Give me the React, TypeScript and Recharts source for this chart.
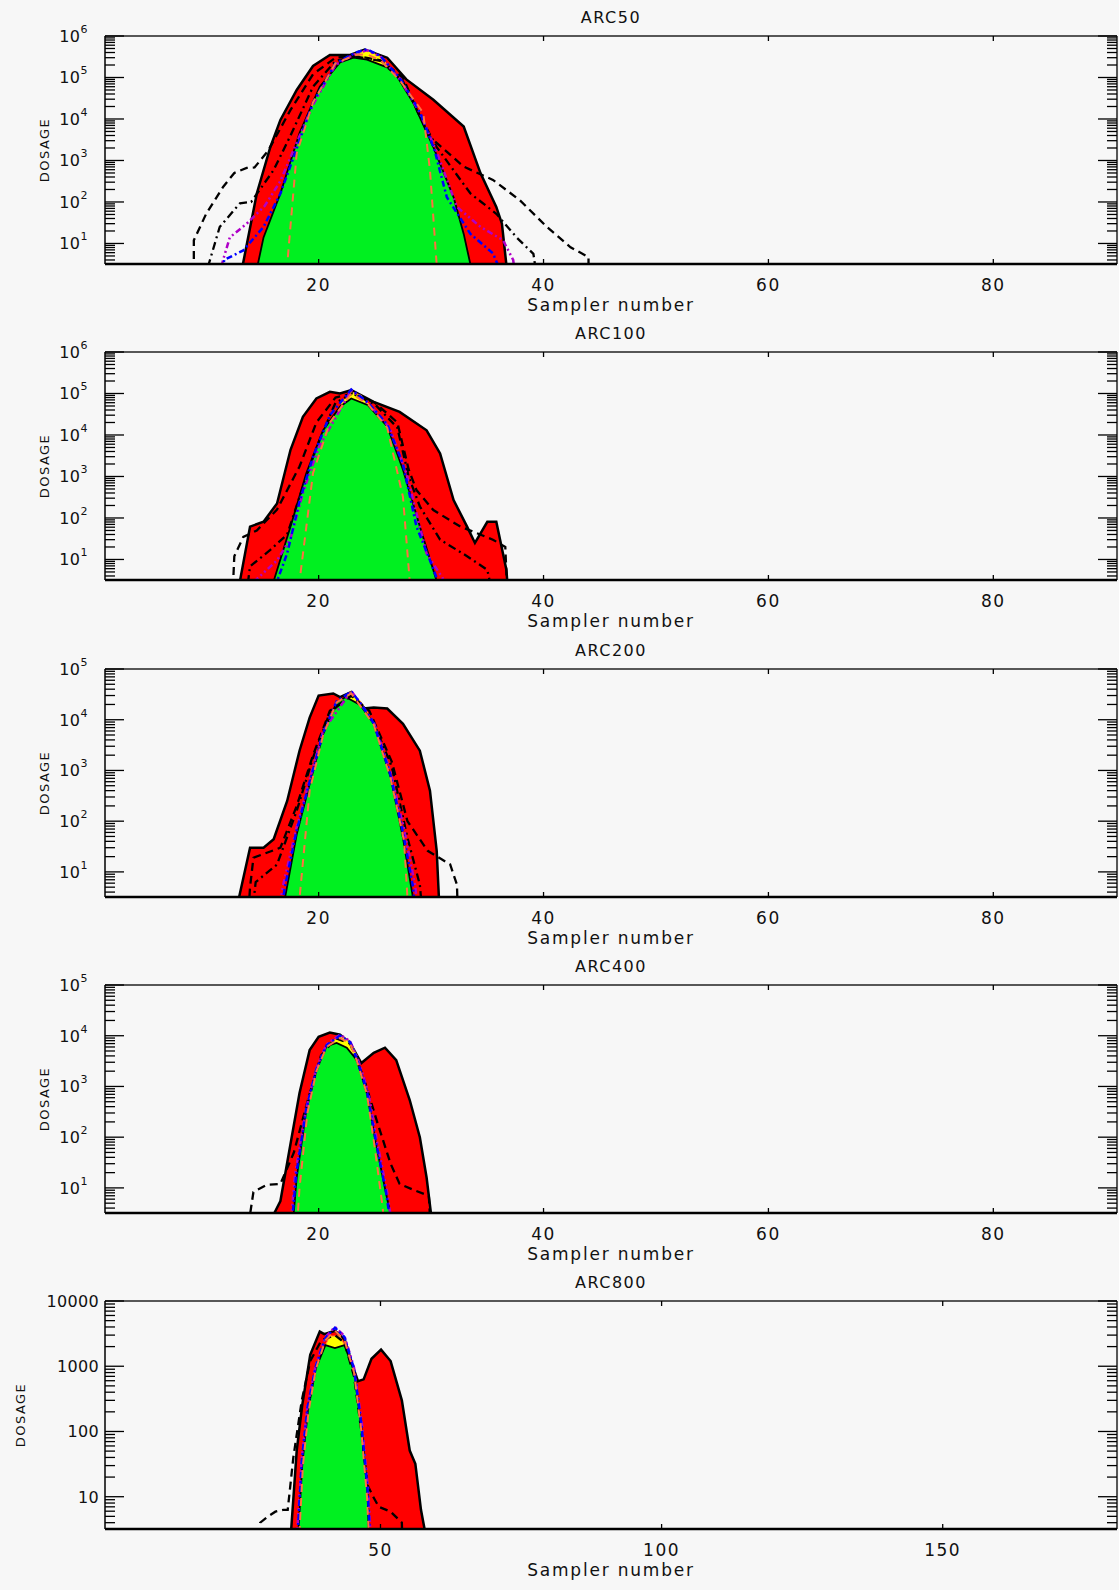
import React from "react";
import { ComposedChart, Area, Line, XAxis, YAxis, ReferenceLine } from "recharts";

type Pt = [number, number]; // [sampler number, dosage]

// ---- ARC50 ----
const arc50Red: Pt[] = [[12.9, 1], [14.5, 160], [15.7, 2100], [16.6, 9500], [18.05, 5e4], [19.5, 1.9e5], [21.0, 3.5e5], [22.8, 3.5e5], [24.1, 4.7e5], [26.1, 3e5], [27.8, 9e4], [30.2, 2.9e4], [32.9, 6600], [34.4, 490], [35.8, 76], [36.3, 30], [36.7, 3], [36.9, 1]];
const arc50Yellow: Pt[] = [[22.0, 1e5], [23.3, 3.8e5], [24.3, 4.5e5], [25.5, 3.2e5], [26.6, 1.4e5]];
const arc50Green: Pt[] = [[14.2, 1], [15.1, 14], [16.6, 160], [18.3, 4600], [20.1, 6e4], [21.9, 2.3e5], [23.1, 3e5], [24.3, 2.7e5], [26.6, 1.55e5], [28.4, 2.5e4], [30.2, 2100], [32.0, 130], [32.9, 17], [33.9, 1]];
const arc50Dash: Pt[] = [[8.9, 1], [8.9, 12], [10.0, 52], [11.5, 230], [12.5, 500], [13.6, 660], [14.3, 680], [15.5, 1700], [17.5, 1.66e4], [19.5, 1.2e5], [21.5, 3e5], [23.3, 3.3e5], [25.5, 2.6e5], [27.5, 1e5], [28.8, 1.5e4], [29.9, 3700], [32.9, 710], [35.5, 340], [37.9, 110], [40.3, 25], [42.4, 8.1], [44.0, 4.7], [44.0, 1]];
const arc50DashDot: Pt[] = [[10.0, 1], [10.2, 3], [11.2, 25], [13.0, 93], [14.0, 100], [16.0, 590], [17.5, 4000], [19.5, 6e4], [21.5, 2.5e5], [23.3, 3.2e5], [25.5, 2.5e5], [27.5, 8e4], [29.0, 1.2e4], [30.5, 2100], [33.5, 160], [35.8, 52], [37.6, 14], [39.1, 5.6], [39.5, 1]];
const arc50Magenta: Pt[] = [[11.0, 1], [11.5, 4], [12.1, 14], [13.6, 30], [15.2, 80], [16.6, 320], [18.0, 2500], [19.5, 2.2e4], [21.5, 2e5], [23.3, 3.8e5], [24.3, 4.5e5], [25.5, 3.2e5], [27.3, 8.5e4], [29.0, 1.4e4], [30.5, 1600], [32.3, 76], [34.4, 25], [36.4, 12], [37.3, 4], [37.6, 1]];
const arc50Blue: Pt[] = [[11.3, 1], [11.6, 4], [13.3, 6.8], [15.1, 25], [16.6, 160], [17.8, 1260], [19.5, 2.5e4], [21.5, 2.2e5], [23.3, 4e5], [24.3, 4.8e5], [25.5, 3.3e5], [27.3, 9e4], [29.0, 1.5e4], [30.3, 1800], [31.4, 130], [33.5, 17], [35.5, 5.8], [36.7, 1]];
const arc50Orange: Pt[] = [[16.9, 1], [17.2, 3], [18.05, 1500], [19.5, 2.5e4], [21.5, 2.2e5], [23.3, 3.5e5], [24.3, 3.6e5], [25.5, 2.6e5], [27.3, 8e4], [29.3, 1.4e4], [29.9, 590], [30.5, 3], [30.7, 1]];

// ---- ARC100 ----
const arc100Red: Pt[] = [[12.8, 1], [13.0, 3], [13.9, 62], [15.1, 81], [16.3, 224], [17.5, 4400], [18.6, 2.75e4], [19.8, 7.6e4], [21.0, 1.1e5], [21.9, 1e5], [22.9, 1.2e5], [24.9, 6.3e4], [27.2, 3.6e4], [29.6, 1.3e4], [30.8, 3600], [32.0, 270], [33.2, 62], [33.9, 25], [35.0, 81], [35.8, 81], [36.7, 5.6], [36.9, 1]];
const arc100Yellow: Pt[] = [[22.0, 6e4], [22.9, 1.1e5], [23.8, 9e4], [24.6, 5e4]];
const arc100Green: Pt[] = [[15.7, 1], [16.0, 3], [17.5, 62], [18.9, 1200], [20.4, 1.3e4], [21.9, 4.8e4], [22.9, 7.6e4], [24.4, 5.2e4], [26.1, 1.6e4], [27.5, 1450], [29.0, 62], [30.5, 3], [30.7, 1]];
const arc100Dash: Pt[] = [[12.4, 1], [12.4, 3], [12.5, 12], [13.3, 35], [14.5, 50], [16.3, 160], [18.3, 1740], [19.8, 2e4], [21.5, 8e4], [23.0, 1e5], [25.0, 6e4], [27.0, 2e4], [28.0, 1500], [28.7, 470], [30.2, 155], [32.6, 62], [35.5, 30], [36.6, 20], [36.8, 1]];
const arc100DashDot: Pt[] = [[13.5, 1], [13.9, 6.8], [15.7, 17], [17.2, 40], [18.3, 320], [19.8, 5000], [21.5, 6e4], [23.0, 1e5], [25.0, 5.5e4], [27.0, 1.5e4], [28.0, 1000], [29.0, 190], [30.8, 30], [33.2, 12], [35.0, 5.6], [35.6, 1]];
const arc100Magenta: Pt[] = [[14.1, 1], [14.3, 3], [16.3, 9.5], [17.5, 32], [18.6, 400], [20.0, 5000], [22.9, 1.2e5], [24.4, 5.8e4], [26.3, 1.5e4], [27.8, 1200], [29.6, 14], [31.2, 3], [31.4, 1]];
const arc100Blue: Pt[] = [[15.8, 1], [16.3, 3], [17.2, 14], [18.3, 250], [19.5, 3000], [21.0, 3e4], [22.9, 1.25e5], [24.4, 6e4], [26.1, 1.8e4], [27.5, 2000], [28.7, 62], [29.9, 9.5], [30.6, 3], [30.8, 1]];
const arc100Orange: Pt[] = [[18.1, 1], [18.3, 3], [19.5, 1200], [21.0, 2e4], [22.9, 1e5], [24.4, 5.5e4], [26.1, 1.5e4], [27.5, 320], [28.1, 3], [28.3, 1]];

// ---- ARC200 ----
const arc200Red: Pt[] = [[12.6, 1], [12.9, 3], [13.9, 30], [15.1, 30], [16.0, 44], [17.2, 250], [18.3, 2450], [19.2, 1.1e4], [20.0, 3e4], [21.3, 3.3e4], [21.9, 2.8e4], [22.9, 3.5e4], [24.0, 1.66e4], [24.9, 1.74e4], [26.1, 1.66e4], [27.5, 8300], [29.0, 2450], [29.9, 400], [30.5, 26], [30.7, 3], [30.9, 1]];
const arc200Yellow: Pt[] = [[21.8, 2.2e4], [22.9, 3.6e4], [23.8, 2.2e4], [24.5, 1.2e4]];
const arc200Green: Pt[] = [[16.7, 1], [17.0, 3], [18.05, 55], [19.2, 540], [20.4, 5200], [21.6, 2.2e4], [22.4, 2.8e4], [23.7, 1.95e4], [24.9, 8300], [26.4, 740], [27.5, 47], [28.4, 3], [28.6, 1]];
const arc200Dash: Pt[] = [[13.7, 1], [13.9, 5], [14.2, 19], [16.6, 30], [18.05, 200], [19.5, 2000], [21.0, 1.5e4], [22.9, 3e4], [24.5, 1.5e4], [26.5, 1500], [27.9, 100], [29.7, 26], [31.7, 14], [32.3, 5.6], [32.4, 1]];
const arc200DashDot: Pt[] = [[14.0, 1], [14.4, 6.3], [16.3, 14], [18.05, 160], [19.5, 1800], [21.0, 1.4e4], [22.9, 3e4], [24.5, 1.4e4], [26.5, 1200], [27.9, 47], [29.0, 5.6], [29.3, 1]];
const arc200Magenta: Pt[] = [[16.3, 1], [16.8, 5], [18.0, 70], [19.2, 650], [20.4, 6000], [22.9, 3.7e4], [24.9, 9000], [26.4, 900], [27.6, 70], [28.6, 5], [28.9, 1]];
const arc200Blue: Pt[] = [[16.5, 1], [17.0, 5], [18.0, 60], [19.2, 600], [20.4, 5500], [21.6, 2.3e4], [22.9, 3.6e4], [23.8, 2e4], [24.9, 8500], [26.4, 800], [27.5, 60], [28.4, 5], [28.7, 1]];
const arc200Orange: Pt[] = [[18.0, 1], [18.3, 3], [19.2, 400], [20.4, 5000], [21.6, 2.2e4], [22.9, 3.3e4], [24.9, 8000], [26.4, 700], [27.6, 40], [27.9, 3], [28.1, 1]];

// ---- ARC400 ----
const arc400Red: Pt[] = [[15.8, 1], [16.0, 3], [16.6, 5.5], [17.5, 74], [18.3, 740], [19.2, 5200], [20.0, 9500], [21.0, 1.15e4], [21.9, 1.05e4], [22.8, 7200], [23.8, 2900], [24.9, 4600], [25.9, 5800], [26.9, 3300], [28.1, 540], [29.0, 100], [29.6, 16], [30.0, 3], [30.2, 1]];
const arc400Yellow: Pt[] = [[21.0, 7000], [21.9, 1e4], [22.8, 8000], [23.4, 4000]];
const arc400Green: Pt[] = [[17.6, 1], [18.05, 16], [18.9, 340], [19.8, 2100], [20.7, 6200], [21.6, 7200], [22.5, 5800], [23.4, 3300], [24.3, 720], [25.1, 74], [26.0, 7.6], [26.4, 3], [26.6, 1]];
const arc400Dash: Pt[] = [[13.9, 1], [13.9, 3], [14.2, 8.3], [15.4, 11.5], [16.6, 12], [17.8, 50], [19.0, 500], [20.2, 4000], [21.5, 9000], [22.8, 7000], [24.0, 1500], [25.2, 200], [26.4, 30], [27.2, 12], [28.5, 9], [29.8, 7], [30.0, 1]];
const arc400Magenta: Pt[] = [[17.4, 1], [17.9, 18], [18.9, 380], [19.8, 2300], [20.7, 6800], [21.9, 1.05e4], [22.8, 7800], [23.5, 3400], [24.4, 800], [25.2, 80], [26.1, 8], [26.7, 1]];
const arc400Blue: Pt[] = [[17.5, 1], [18.0, 18], [18.9, 360], [19.8, 2200], [20.7, 6500], [21.9, 1e4], [22.8, 7500], [23.4, 3500], [24.3, 800], [25.1, 80], [26.0, 8], [26.6, 1]];
const arc400Orange: Pt[] = [[18.0, 1], [18.3, 10], [19.0, 300], [19.8, 2000], [20.7, 6000], [21.9, 9000], [22.8, 7000], [23.4, 3200], [24.3, 700], [25.0, 60], [25.7, 4], [25.9, 1]];

// ---- ARC800 ----
const arc800Red: Pt[] = [[33.8, 1], [34.1, 3], [35.1, 51], [36.1, 260], [37.5, 1500], [39.2, 3400], [40.0, 3100], [41.9, 3500], [43.6, 2600], [45.0, 1050], [46.0, 590], [47.0, 630], [48.4, 1300], [50.1, 1800], [51.8, 1200], [53.8, 300], [55.2, 51], [56.2, 32], [57.2, 6.3], [57.9, 3], [58.1, 1]];
const arc800Yellow: Pt[] = [[40.2, 2100], [41.0, 2900], [41.9, 2900], [42.8, 2900], [43.6, 2100]];
const arc800Green: Pt[] = [[35.1, 1], [35.4, 3], [36.1, 32], [37.1, 210], [38.5, 930], [40.2, 2100], [41.9, 1900], [43.6, 2100], [45.3, 830], [46.6, 115], [47.7, 11], [47.9, 3], [48.1, 1]];
const arc800Dash: Pt[] = [[28.6, 1], [28.6, 4], [30.0, 5], [31.3, 5.9], [32.7, 6.3], [33.5, 6.3], [34.5, 40], [36.0, 300], [37.5, 1200], [39.5, 2500], [41.9, 3000], [43.6, 2300], [45.3, 700], [46.6, 100], [47.7, 15], [48.7, 10], [49.7, 7], [51.8, 5.9], [53.8, 4], [54.0, 1]];
const arc800Magenta: Pt[] = [[34.9, 1], [35.2, 3], [36.0, 38], [37.0, 240], [38.5, 1050], [40.2, 2800], [41.9, 4000], [43.6, 2900], [45.3, 950], [46.7, 130], [47.8, 13], [48.2, 3], [48.4, 1]];
const arc800Blue: Pt[] = [[35.0, 1], [35.3, 3], [36.0, 35], [37.0, 230], [38.5, 1000], [40.2, 2700], [41.9, 3900], [43.6, 2800], [45.3, 900], [46.6, 130], [47.7, 13], [48.1, 3], [48.3, 1]];
const arc800Orange: Pt[] = [[35.3, 1], [35.6, 3], [36.2, 30], [37.2, 200], [38.5, 900], [40.2, 2500], [41.9, 3500], [43.6, 2500], [45.3, 800], [46.6, 100], [47.6, 10], [47.9, 3], [48.0, 1]];

// axis ticks
const xTicksShort = [20, 40, 60, 80];
const xTicksLong = [50, 100, 150];
const yMajors6 = [10, 100, 1000, 10000, 100000, 1000000];
const yMajors5 = [10, 100, 1000, 10000, 100000];
const yMajors4 = [10, 100, 1000, 10000];

const W = 1119;
const H = 316;
const PL = 105;
const PR = 1117;
const PT = 36;
const PB = 264;
const Y_MIN = 3.2;
const FONT = "'DejaVu Sans', sans-serif";

const pts = (a: Pt[]) => a.map(([s, v]) => ({ s, v }));

// major decades plus log minor ticks 2..9 inside the domain
function logTicks(majors: number[]) {
  const out: number[] = [];
  const top = majors[majors.length - 1];
  for (let dec = 1; dec < top; dec *= 10) {
    for (let d = 1; d < 10; d++) {
      const v = d * dec;
      if (v >= Y_MIN && v <= top) out.push(v);
    }
  }
  out.push(top);
  return out;
}

function YTick(p: any, majors: number[], sup: boolean) {
  const { y, payload } = p;
  const v = payload.value;
  const major = majors.includes(v);
  const len = major ? 19 : 10;
  return (
    <g>
      <line x1={PL} x2={PL + len} y1={y} y2={y} stroke="#000" strokeWidth={1.3} />
      <line x1={PR} x2={PR - len} y1={y} y2={y} stroke="#000" strokeWidth={1.3} />
      {major && sup && (
        <text x={PL - 17} y={y + 6} textAnchor="end" fontFamily={FONT} fontSize={16} fill="#111" letterSpacing={0.5}>
          10<tspan dy={-9} fontSize={11}>{Math.round(Math.log10(v))}</tspan>
        </text>
      )}
      {major && !sup && (
        <text x={PL - 6} y={y + 6} textAnchor="end" fontFamily={FONT} fontSize={16} fill="#111" letterSpacing={0.3}>
          {v}
        </text>
      )}
    </g>
  );
}

function XTick(p: any) {
  const { x, payload } = p;
  return (
    <g>
      <line x1={x} x2={x} y1={PB} y2={PB - 5} stroke="#000" strokeWidth={1.3} />
      <line x1={x} x2={x} y1={PT} y2={PT + 5} stroke="#000" strokeWidth={1.3} />
      <text x={x} y={PB + 27} textAnchor="middle" fontFamily={FONT} fontSize={17} fill="#111" letterSpacing={1.5}>
        {payload.value}
      </text>
    </g>
  );
}

type PanelProps = {
  title: string;
  top: number;
  xMax: number;
  xTicks: number[];
  majors: number[];
  sup: boolean;
  red: Pt[];
  yellow: Pt[];
  green: Pt[];
  dash: Pt[];
  dashDot?: Pt[];
  magenta: Pt[];
  blue: Pt[];
  orange: Pt[];
  ylabelX: number;
};

function Panel(pr: PanelProps) {
  const yMax = pr.majors[pr.majors.length - 1];
  const ticks = logTicks(pr.majors);
  return (
    <div style={{ position: "absolute", left: 0, top: pr.top, width: W, height: H }}>
      <div style={{ position: "absolute", left: PL, width: PR - PL, top: 8, textAlign: "center", fontFamily: FONT, fontSize: 16, letterSpacing: 1.5, color: "#111", lineHeight: "20px" }}>
        {pr.title}
      </div>
      <div style={{ position: "absolute", left: pr.ylabelX - 50, top: (PT + PB) / 2 - 8, width: 100, textAlign: "center", fontFamily: FONT, fontSize: 13, letterSpacing: 1.5, color: "#111", lineHeight: "16px", transform: "rotate(-90deg)" }}>
        DOSAGE
      </div>
      <div style={{ position: "absolute", left: PL, width: PR - PL, top: PB + 31, textAlign: "center", fontFamily: FONT, fontSize: 17, letterSpacing: 1.8, color: "#111", lineHeight: "20px" }}>
        Sampler number
      </div>
      <ComposedChart width={W} height={H} margin={{ top: PT, right: W - PR, bottom: 0, left: PL - 60 }}>
        <XAxis dataKey="s" type="number" domain={[1, pr.xMax]} allowDataOverflow ticks={pr.xTicks} interval={0} tick={XTick} tickLine={false} height={H - PB} axisLine={{ stroke: "#000", strokeWidth: 2.5 }} />
        <YAxis type="number" scale="log" domain={[Y_MIN, yMax]} allowDataOverflow ticks={ticks} interval={0} tick={(p: any) => YTick(p, pr.majors, pr.sup)} tickLine={false} width={60} axisLine={{ stroke: "#000", strokeWidth: 1.5 }} />
        <ReferenceLine y={yMax} stroke="#222" strokeWidth={1.5} ifOverflow="visible" />
        <ReferenceLine x={pr.xMax} stroke="#222" strokeWidth={1.5} ifOverflow="visible" />
        <Area data={pts(pr.red)} dataKey="v" type="linear" fill="#ff0000" fillOpacity={1} stroke="#000" strokeWidth={2.5} isAnimationActive={false} />
        <Area data={pts(pr.yellow)} dataKey="v" type="linear" fill="#ffff00" fillOpacity={1} stroke="#ff8040" strokeWidth={1} isAnimationActive={false} />
        <Area data={pts(pr.green)} dataKey="v" type="linear" fill="#00f020" fillOpacity={1} stroke="#000" strokeWidth={1.8} isAnimationActive={false} />
        <Line data={pts(pr.dash)} dataKey="v" type="linear" stroke="#000" strokeWidth={2.3} strokeDasharray="8 5" dot={false} isAnimationActive={false} />
        {pr.dashDot && <Line data={pts(pr.dashDot)} dataKey="v" type="linear" stroke="#000" strokeWidth={2.3} strokeDasharray="8 4 2 4" dot={false} isAnimationActive={false} />}
        <Line data={pts(pr.magenta)} dataKey="v" type="linear" stroke="#b000c8" strokeWidth={2.5} strokeDasharray="6 3 2 3 2 3" dot={false} isAnimationActive={false} />
        <Line data={pts(pr.blue)} dataKey="v" type="linear" stroke="#0000ff" strokeWidth={2.5} strokeDasharray="6 3 2 3" dot={false} isAnimationActive={false} />
        <Line data={pts(pr.orange)} dataKey="v" type="linear" stroke="#ff7040" strokeWidth={2} strokeDasharray="8 6" dot={false} isAnimationActive={false} />
      </ComposedChart>
    </div>
  );
}

export default function App() {
  const step = 316.25;
  return (
    <div style={{ position: "absolute", left: 0, top: 0, width: W, height: 1590, background: "#f7f7f7", overflow: "hidden" }}>
      <Panel title="ARC50" top={0} xMax={91} xTicks={xTicksShort} majors={yMajors6} sup ylabelX={45}
        red={arc50Red} yellow={arc50Yellow} green={arc50Green} dash={arc50Dash} dashDot={arc50DashDot} magenta={arc50Magenta} blue={arc50Blue} orange={arc50Orange} />
      <Panel title="ARC100" top={Math.round(step)} xMax={91} xTicks={xTicksShort} majors={yMajors6} sup ylabelX={45}
        red={arc100Red} yellow={arc100Yellow} green={arc100Green} dash={arc100Dash} dashDot={arc100DashDot} magenta={arc100Magenta} blue={arc100Blue} orange={arc100Orange} />
      <Panel title="ARC200" top={Math.round(step * 2)} xMax={91} xTicks={xTicksShort} majors={yMajors5} sup ylabelX={45}
        red={arc200Red} yellow={arc200Yellow} green={arc200Green} dash={arc200Dash} dashDot={arc200DashDot} magenta={arc200Magenta} blue={arc200Blue} orange={arc200Orange} />
      <Panel title="ARC400" top={Math.round(step * 3)} xMax={91} xTicks={xTicksShort} majors={yMajors5} sup ylabelX={45}
        red={arc400Red} yellow={arc400Yellow} green={arc400Green} dash={arc400Dash} magenta={arc400Magenta} blue={arc400Blue} orange={arc400Orange} />
      <Panel title="ARC800" top={Math.round(step * 4)} xMax={181} xTicks={xTicksLong} majors={yMajors4} sup={false} ylabelX={21}
        red={arc800Red} yellow={arc800Yellow} green={arc800Green} dash={arc800Dash} magenta={arc800Magenta} blue={arc800Blue} orange={arc800Orange} />
    </div>
  );
}
